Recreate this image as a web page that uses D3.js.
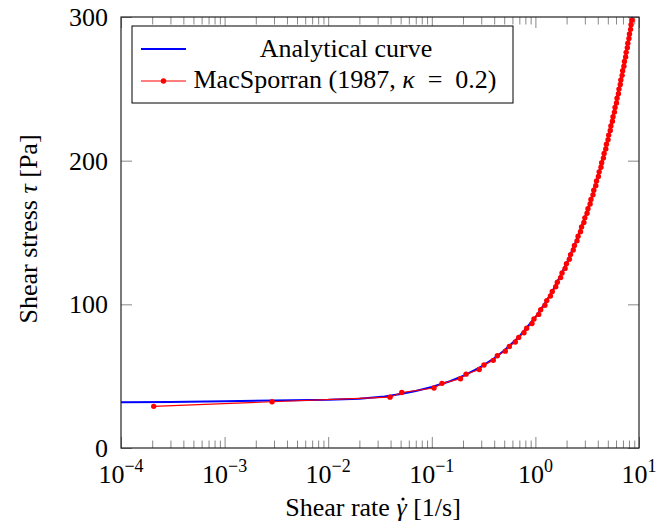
<!DOCTYPE html>
<html>
<head>
<meta charset="utf-8">
<script src="https://cdn.jsdelivr.net/npm/d3@7"></script>
<style>
  body { margin: 0; background: #fff; }
  text { font-family: "Liberation Serif", "Times New Roman", serif; fill: #000; }
</style>
</head>
<body>
<div id="chart"></div>
<script>
// Shear stress vs shear rate: analytical curve and MacSporran (1987) points

// analytical curve
const gammaFit = [1e-4, 3e-4, 1e-3, 3e-3, 1e-2, 0.02, 0.035, 0.05, 0.07, 0.1, 0.15, 0.2, 0.3, 0.4, 0.5,
  0.7, 1.0, 1.25, 1.5, 2.0, 2.5, 3.0, 3.5, 4.0, 4.5, 5.0, 6.0, 7.0, 8.0, 8.62];
const tauFit = [31.8, 32.1, 32.6, 33.0, 33.5, 34.3, 35.8, 37.6, 39.7, 42.5, 46.5, 50.1, 56.6, 62.4, 67.8,
  77.7, 91.0, 101.2, 110.7, 128.4, 144.8, 160.2, 174.8, 188.8, 202.2, 215.2, 240.0, 263.6, 286.1, 300.0];

// MacSporran points
const gammaRed = [0.000207, 0.00287, 0.0395, 0.0513, 0.105, 0.1255, 0.189, 0.214, 0.287, 0.319,
  0.392, 0.429, 0.512, 0.560, 0.640, 0.690, 0.776, 0.824, 0.927, 0.969,
  1.076, 1.125, 1.236, 1.287, 1.397, 1.455, 1.572, 1.628, 1.752, 1.808,
  1.934, 1.994, 2.126, 2.185, 2.319, 2.381, 2.521, 2.582, 2.725, 2.789,
  2.937, 3.000, 3.151, 3.216, 3.373, 3.437, 3.595, 3.662, 3.825, 3.891,
  4.056, 4.125, 4.295, 4.363, 4.533, 4.606, 4.779, 4.851, 5.025, 5.101,
  5.280, 5.355, 5.538, 5.612, 5.795, 5.874, 6.060, 6.139, 6.330, 6.408,
  6.595, 6.680, 6.871, 6.956, 7.152, 7.235, 7.434, 7.516, 7.713, 7.803,
  8.002, 8.092, 8.295, 8.384, 8.590];
const tauRed = [29.0, 32.2, 35.4, 38.6, 41.8, 45.0, 48.2, 51.4, 54.6, 57.8,
  61.0, 64.2, 67.4, 70.6, 73.8, 77.0, 80.2, 83.4, 86.6, 89.8,
  93.0, 96.2, 99.4, 102.6, 105.8, 109.0, 112.2, 115.4, 118.6, 121.8,
  125.0, 128.2, 131.4, 134.6, 137.8, 141.0, 144.2, 147.4, 150.6, 153.8,
  157.0, 160.2, 163.4, 166.6, 169.8, 173.0, 176.2, 179.4, 182.6, 185.8,
  189.0, 192.2, 195.4, 198.6, 201.8, 205.0, 208.2, 211.4, 214.6, 217.8,
  221.0, 224.2, 227.4, 230.6, 233.8, 237.0, 240.2, 243.4, 246.6, 249.8,
  253.0, 256.2, 259.4, 262.6, 265.8, 269.0, 272.2, 275.4, 278.6, 281.8,
  285.0, 288.2, 291.4, 294.6, 297.8];

const xTicks = [1e-4, 1e-3, 1e-2, 1e-1, 1, 10];
const xTickExp = ["\u22124", "\u22123", "\u22122", "\u22121", "0", "1"];
const yTicks = [0, 100, 200, 300];
const legendLabels = ["Analytical curve", "MacSporran (1987, "];

const W = 656, H = 529;
const margin = {top: 17, right: 17, bottom: 81, left: 121};

const svg = d3.select("#chart")
  .append("svg")
  .attr("width", W)
  .attr("height", H);

const x = d3.scaleLog().domain([1e-4, 10]).range([margin.left, W - margin.right]);
const y = d3.scaleLinear().domain([0, 300]).range([H - margin.bottom, margin.top]);

svg.append("clipPath").attr("id", "clip")
  .append("rect")
  .attr("x", margin.left).attr("y", margin.top)
  .attr("width", W - margin.left - margin.right)
  .attr("height", H - margin.top - margin.bottom);

// minor log ticks = everything d3 gives that isn't a decade
const minor = x.ticks().filter(d => Math.abs(Math.log10(d) - Math.round(Math.log10(d))) > 1e-6);

const tickStyle = g => {
  g.select(".domain").remove();
  g.selectAll(".tick line").attr("stroke", "#888").attr("stroke-width", 1);
};

svg.append("g").attr("transform", `translate(0,${y(0)})`)
  .call(d3.axisBottom(x).tickValues(xTicks).tickSize(-11).tickFormat(""))
  .call(tickStyle);
svg.append("g").attr("transform", `translate(0,${y(0)})`)
  .call(d3.axisBottom(x).tickValues(minor).tickSize(-7.5).tickFormat(""))
  .call(tickStyle);
svg.append("g").attr("transform", `translate(0,${y(300)})`)
  .call(d3.axisTop(x).tickValues(xTicks).tickSize(-11).tickFormat(""))
  .call(tickStyle);
svg.append("g").attr("transform", `translate(0,${y(300)})`)
  .call(d3.axisTop(x).tickValues(minor).tickSize(-7.5).tickFormat(""))
  .call(tickStyle);
svg.append("g").attr("transform", `translate(${x(1e-4)},0)`)
  .call(d3.axisLeft(y).tickValues(yTicks).tickSize(-11).tickFormat(""))
  .call(tickStyle);
svg.append("g").attr("transform", `translate(${x(10)},0)`)
  .call(d3.axisRight(y).tickValues(yTicks).tickSize(-11).tickFormat(""))
  .call(tickStyle);

// tick labels
const xl = svg.append("g").selectAll("text")
  .data(xTicks)
  .join("text")
    .attr("x", d => x(d))
    .attr("y", 483)
    .attr("text-anchor", "middle")
    .attr("font-size", 26);
xl.append("tspan").text("10");
xl.append("tspan")
  .attr("dy", -11)
  .attr("font-size", 18)
  .text((d, i) => xTickExp[i]);

svg.append("g").selectAll("text")
  .data(yTicks)
  .join("text")
    .attr("x", 108)
    .attr("y", d => y(d) + 9)
    .attr("text-anchor", "end")
    .attr("font-size", 26)
    .text(d => d);

// axis titles
const xt = svg.append("text")
  .attr("x", 373)
  .attr("y", 516)
  .attr("text-anchor", "middle")
  .attr("font-size", 26);
xt.append("tspan").text("Shear rate ");
xt.append("tspan").attr("font-style", "italic").text("\u03B3");
xt.append("tspan").text(" [1/s]");
// dot over gamma, placed from the glyph box
const gBox = xt.node().getExtentOfChar(11);
svg.append("circle")
  .attr("cx", gBox.x + gBox.width / 2 + 1.5)
  .attr("cy", 499)
  .attr("r", 1.6)
  .attr("fill", "#000");

const yt = svg.append("text")
  .attr("transform", "translate(37,229) rotate(-90)")
  .attr("text-anchor", "middle")
  .attr("font-size", 26);
yt.append("tspan").text("Shear stress ");
yt.append("tspan").attr("font-style", "italic").text("\u03C4");
yt.append("tspan").text(" [Pa]");

// curves
const line = d3.line().x(d => x(d[0])).y(d => y(d[1]));
const plot = svg.append("g").attr("clip-path", "url(#clip)");

plot.append("path")
  .datum(d3.zip(gammaFit, tauFit))
  .attr("fill", "none")
  .attr("stroke", "#0000ff")
  .attr("stroke-width", 2)
  .attr("d", line);

const red = d3.zip(gammaRed, tauRed);
plot.append("path")
  .datum(red)
  .attr("fill", "none")
  .attr("stroke", "#ff0000")
  .attr("stroke-width", 1.1)
  .attr("d", line);
plot.append("g").selectAll("circle")
  .data(red)
  .join("circle")
    .attr("cx", d => x(d[0]))
    .attr("cy", d => y(d[1]))
    .attr("r", 2.7)
    .attr("fill", "#ff0000");

// frame
svg.append("rect")
  .attr("x", margin.left).attr("y", margin.top)
  .attr("width", W - margin.left - margin.right)
  .attr("height", H - margin.top - margin.bottom)
  .attr("fill", "none")
  .attr("stroke", "#222")
  .attr("stroke-width", 1.2);

// legend
const lg = svg.append("g");
lg.append("rect")
  .attr("x", 132).attr("y", 26)
  .attr("width", 381).attr("height", 77)
  .attr("fill", "#fff")
  .attr("stroke", "#000")
  .attr("stroke-width", 1);
lg.append("line")
  .attr("x1", 141).attr("x2", 186).attr("y1", 49).attr("y2", 49)
  .attr("stroke", "#0000ff").attr("stroke-width", 2);
lg.append("line")
  .attr("x1", 141).attr("x2", 186).attr("y1", 81).attr("y2", 81)
  .attr("stroke", "#ff0000").attr("stroke-width", 1.1);
lg.append("circle")
  .attr("cx", 163.5).attr("cy", 81).attr("r", 2.7)
  .attr("fill", "#ff0000");
lg.append("text")
  .attr("x", 346).attr("y", 57)
  .attr("text-anchor", "middle")
  .attr("font-size", 26)
  .text(legendLabels[0]);
const l2 = lg.append("text")
  .attr("x", 345).attr("y", 88)
  .attr("text-anchor", "middle")
  .attr("font-size", 26);
l2.append("tspan").text(legendLabels[1]);
l2.append("tspan").attr("font-style", "italic").text("\u03BA");
l2.append("tspan").text("\u2002=\u20020.2)");
</script>
</body>
</html>
